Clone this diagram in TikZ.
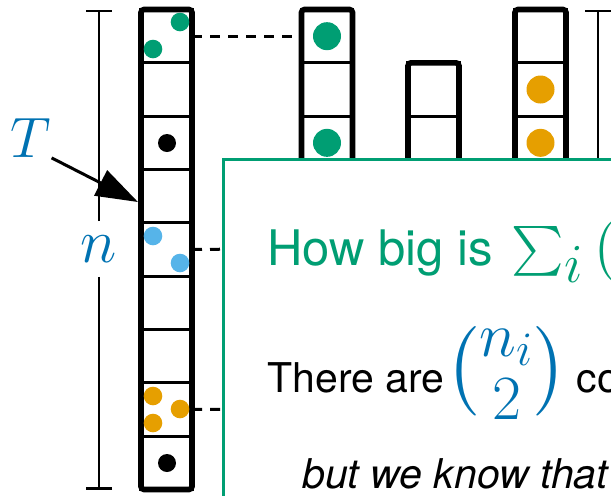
\RequirePackage{fix-cm}
\documentclass[tikz,border=0pt]{standalone}
\usepackage{amsmath}
\usepackage[no-math]{fontspec}
\setmainfont{TeX Gyre Heros}
\usetikzlibrary{arrows.meta}
\definecolor{bluishgreen}{RGB}{0,158,115}
\definecolor{okorange}{RGB}{230,159,0}
\definecolor{skyblue}{RGB}{86,180,233}
\definecolor{darkblue}{RGB}{0,114,178}
\DeclareMathSizes{27.5}{27.5}{23}{17}
\DeclareMathSizes{27}{27}{21}{16}

\begin{document}
\begin{tikzpicture}[x=0.5pt, y=-0.5pt,
    cell/.style={draw, line width=1.6pt, minimum width=25.5pt, minimum height=26.67pt, inner sep=0pt, outer sep=0pt},
    column/.style={line width=2.8pt, rounded corners=1.5pt},
    dashline/.style={line width=1.5pt, dash pattern=on 5pt off 4pt},
    brace/.style={line width=1.2pt, -{Bar[width=13pt]}},
    boxtext/.style={anchor=base west, inner sep=0pt},
  ]
    \useasboundingbox (0,0) rectangle (611,495);
    \clip (0,0) rectangle (611,495);

    % the long table T
    \foreach \i in {1,...,9}
        \node[cell] (L\i) at (166.5, {9.5+53.33*(\i-0.5)}) {};
    \draw[column] (L1.north west) rectangle (L9.south east);

    % the small tables
    \foreach \i in {1,...,4} {
        \node[cell] (G\i) at (327, {9.5+53.33*(\i-0.5)}) {};
        \node[cell] (O\i) at (540.5, {9.5+53.33*(\i-0.5)}) {};
    }
    \foreach \i in {2,...,4}
        \node[cell] (M\i) at (433.5, {9.5+53.33*(\i-0.5)}) {};
    \draw[column] (G1.north west) rectangle (G4.south east);
    \draw[column] (M2.north west) rectangle (M4.south east);
    \draw[column] (O1.north west) rectangle (O4.south east);

    % elements
    \fill[bluishgreen] (180,22) circle[radius=9.3];
    \fill[bluishgreen] (153,49) circle[radius=9.3];
    \fill (167,143) circle[radius=9];
    \fill[skyblue] (153,236) circle[radius=9.3];
    \fill[skyblue] (180,263) circle[radius=9.3];
    \fill[okorange] (153,396) circle[radius=9.3];
    \fill[okorange] (153,423) circle[radius=9.3];
    \fill[okorange] (180,409) circle[radius=9.3];
    \fill (167,463) circle[radius=9];
    \fill[bluishgreen] (G1) circle[radius=14];
    \fill[bluishgreen] (G3) circle[radius=14];
    \fill[okorange] (O2) circle[radius=14];
    \fill[okorange] (O3) circle[radius=14];

    % links to the small tables
    \coordinate (q5) at (300,248.5);
    \coordinate (q8) at (300,409.5);
    \draw[dashline] (L1.east) -- (G1.west);
    \draw[dashline] (L5.east) -- (q5);
    \draw[dashline] (L8.east) -- (q8);

    % sizes
    \node[text=darkblue, font=\fontsize{31}{36}\selectfont, minimum height=27.5pt, inner sep=0pt] (nlab) at (99,249) {$n$};
    \coordinate (ntop) at (99,9.5);
    \coordinate (nbot) at (99,489.5);
    \draw[brace] (nlab) -- (ntop);
    \draw[brace] (nlab) -- (nbot);
    \coordinate (rtop) at (598,9.5);
    \coordinate (rbot) at (598,300);
    \draw[brace] (rbot) -- (rtop);

    \node[text=darkblue, font=\fontsize{28.5}{34}\selectfont, inner sep=0pt] (tlab) at (31,138) {$T$};
    \coordinate (tin) at (138,202);
    \draw[line width=1.5pt, -{Triangle[length=21pt, width=14pt]}] (tlab.south east) -- (tin);

    % question box
    \node[draw=bluishgreen, line width=1.6pt, fill=white, anchor=north west, minimum width=250pt, minimum height=200pt] (qbox) at (222,158) {};
    \node[boxtext, text=bluishgreen, font=\fontsize{24.5}{29}\selectfont] (ask) at (267,265) {How big is};
    \node[boxtext, text=bluishgreen, font=\fontsize{27.5}{33}\selectfont] (asksum) at ([xshift=9pt]ask.base east) {$\sum_{\textstyle i} \binom{n_i}{2}$?};
    \node[boxtext, font=\fontsize{20.5}{25}\selectfont] (count) at (267,392) {There are};
    \node[boxtext, text=darkblue, font=\fontsize{27}{32}\selectfont] (pairs) at ([xshift=0pt]count.base east) {\scalebox{1.5}{$\binom{n_i}{2}$}};
    \node[boxtext, font=\fontsize{20.5}{25}\selectfont] (coll) at ([xshift=4pt]pairs.base east) {collisions};
    \node[boxtext, font=\fontsize{20.5}{25}\selectfont\itshape] (know) at (302,488) {but we know that};
\end{tikzpicture}
\end{document}
